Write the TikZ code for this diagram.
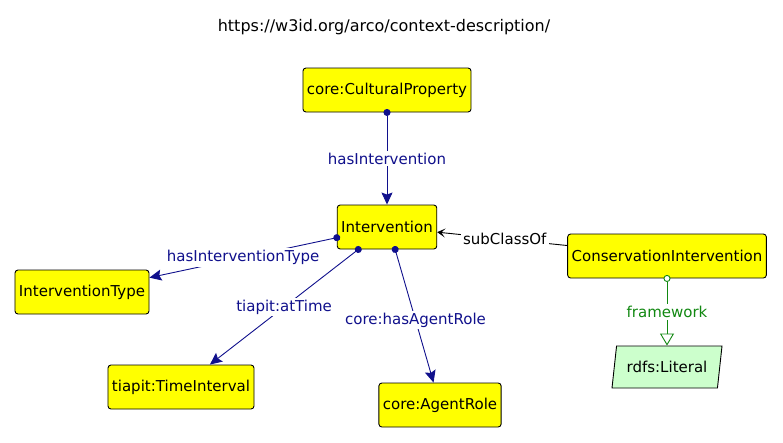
\documentclass[tikz,border=0pt]{standalone}
\usepackage{fontspec}
\setmainfont{DejaVu Sans}
\usetikzlibrary{arrows.meta,shapes.geometric}
\definecolor{owlyellow}{HTML}{FFFF00}
\definecolor{owlblue}{HTML}{10108C}
\definecolor{owlgreen}{HTML}{118811}
\definecolor{owllit}{HTML}{CCFFCC}

\begin{document}
\begin{tikzpicture}[x=1pt, y=-1pt,
    owlclass/.style={rectangle, rounded corners=3pt, draw=black, fill=owlyellow,
      line width=0.9pt, minimum height=44pt, inner xsep=4pt,
      font=\fontsize{15}{18}\selectfont},
    owlliteral/.style={trapezium, trapezium left angle=76, trapezium right angle=104,
      trapezium stretches body, draw=black, fill=owllit, line width=0.9pt,
      minimum width=110pt, minimum height=42pt, font=\fontsize{15}{18}\selectfont},
    objprop/.style={draw=owlblue, line width=0.9pt, shorten <=-3.5pt,
      {Circle[length=7pt]}-{Stealth[length=12pt,width=11pt,inset=2pt]}},
    dataprop/.style={draw=owlgreen, line width=0.9pt, shorten <=-3.5pt,
      {Circle[open,fill=white,length=7pt]}-{Triangle[open,fill=white,length=12pt,width=14pt]}},
    subclass/.style={draw=black, line width=0.9pt, -{Stealth[length=8pt,width=9pt,inset=4pt]}},
    proplabel/.style={fill=white, inner sep=2pt, font=\fontsize{15}{18}\selectfont}]
\useasboundingbox (0,0) rectangle (783,442);

\node[font=\fontsize{16}{19}\selectfont] (title) at (384,27)
  {https://w3id.org/arco/context-description/};

% classes
\node[owlclass] (culprop) at (387,90) {core:CulturalProperty};
\node[owlclass] (interv) at (387,227) {Intervention};
\node[owlclass] (intervtype) at (82,292) {InterventionType};
\node[owlclass] (timeint) at (181,387) {tiapit:TimeInterval};
\node[owlclass] (agentrole) at (440,405) {core:AgentRole};
\node[owlclass] (consinterv) at (667,256) {ConservationIntervention};
\node[owlliteral] (literal) at (667,367) {rdfs:Literal};

% properties
\draw[objprop] (culprop) -- node[proplabel, text=owlblue] {hasIntervention} (interv);
\draw[objprop] (interv.192) -- node[proplabel, text=owlblue] {hasInterventionType} (intervtype);
\draw[objprop] (interv.218) -- node[proplabel, text=owlblue] {tiapit:atTime} (timeint);
\draw[objprop] (interv.290) -- node[proplabel, text=owlblue, pos=0.53] {core:hasAgentRole} (agentrole);
\draw[subclass] (consinterv.174) -- node[proplabel, pos=0.48] {subClassOf} (interv);
\draw[dataprop] (consinterv) -- node[proplabel, text=owlgreen] {framework} (literal);
\end{tikzpicture}
\end{document}
